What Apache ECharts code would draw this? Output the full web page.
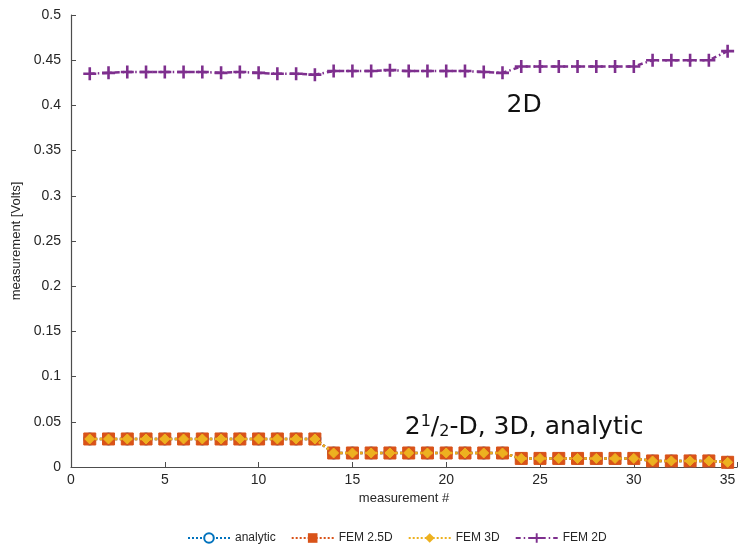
<!DOCTYPE html>
<html><head><meta charset="utf-8">
<script src="https://cdn.jsdelivr.net/npm/echarts@6/dist/echarts.min.js"></script>
<style>html,body{margin:0;padding:0;background:#fff}#c{width:740px;height:546px}</style>
</head><body><div id="c"></div>
<script>
const measurement = [1,2,3,4,5,6,7,8,9,10,11,12,13,14,15,16,17,18,19,20,21,22,23,24,25,26,27,28,29,30,31,32,33,34,35];
const analytic = [0.031,0.031,0.031,0.031,0.031,0.031,0.031,0.031,0.031,0.031,0.031,0.031,0.031,0.0155,0.0155,0.0155,0.0155,0.0155,0.0155,0.0155,0.0155,0.0155,0.0155,0.0095,0.0095,0.0095,0.0095,0.0095,0.0095,0.0095,0.0067,0.0067,0.0067,0.0067,0.0052];
const fem25d = [0.031,0.031,0.031,0.031,0.031,0.031,0.031,0.031,0.031,0.031,0.031,0.031,0.031,0.0155,0.0155,0.0155,0.0155,0.0155,0.0155,0.0155,0.0155,0.0155,0.0155,0.0095,0.0095,0.0095,0.0095,0.0095,0.0095,0.0095,0.0067,0.0067,0.0067,0.0067,0.0052];
const fem3d = [0.031,0.031,0.031,0.031,0.031,0.031,0.031,0.031,0.031,0.031,0.031,0.031,0.031,0.0155,0.0155,0.0155,0.0155,0.0155,0.0155,0.0155,0.0155,0.0155,0.0155,0.0095,0.0095,0.0095,0.0095,0.0095,0.0095,0.0095,0.0067,0.0067,0.0067,0.0067,0.0052];
const fem2d = [0.435,0.436,0.437,0.437,0.437,0.437,0.437,0.436,0.437,0.436,0.435,0.435,0.434,0.438,0.438,0.438,0.439,0.438,0.438,0.438,0.438,0.437,0.436,0.443,0.443,0.443,0.443,0.443,0.443,0.443,0.450,0.450,0.450,0.450,0.460];
const seriesNames = ['analytic','FEM 2.5D','FEM 3D','FEM 2D'];
const colors = ['#0072BD','#D95319','#EDB120','#7E2F8E'];
const annotations = [
  {coord:[24.15,0.40], text:'2D'},
  {coord:[24.15,0.044], text:'{n|2}{sup|1}{n|/}{sub|2}{n|-D, 3D, analytic}'}
];
const plus = 'path://M4,0L6,0L6,4L10,4L10,6L6,6L6,10L4,10L4,6L0,6L0,4L4,4Z';
const pair = a => measurement.map((x,i)=>[x,a[i]]);
const textCol = '#262626';
const AF = 'DejaVu Sans';
const chart = echarts.init(document.getElementById('c'), null, {renderer:'canvas'});
chart.setOption({
  animation:false,
  grid:{left:71,right:2,top:15,bottom:79,containLabel:false},
  legend:{
    top:530,left:182,itemWidth:42,itemHeight:12,itemGap:15,padding:[2,5,2,5],
    textStyle:{fontSize:12,color:textCol,fontFamily:'Liberation Sans'},
    data:seriesNames
  },
  xAxis:{
    type:'value',min:0,max:35.5,interval:5,
    name:'measurement #',nameLocation:'middle',nameGap:24,
    nameTextStyle:{fontSize:13,color:textCol,fontFamily:'Liberation Sans'},
    axisLine:{lineStyle:{color:'#4d4d4d',width:1.2}},
    axisTick:{inside:true,length:5,lineStyle:{color:'#4d4d4d'}},
    splitLine:{show:false},
    axisLabel:{fontSize:14,color:textCol,fontFamily:'Liberation Sans',margin:6,
      formatter:v=> (v%5===0 && v<=35) ? String(v) : ''}
  },
  yAxis:{
    type:'value',min:0,max:0.5,interval:0.05,
    name:'measurement [Volts]',nameLocation:'middle',nameGap:47,
    nameTextStyle:{fontSize:13,color:textCol,fontFamily:'Liberation Sans'},
    axisLine:{show:true,lineStyle:{color:'#4d4d4d',width:1.2}},
    axisTick:{show:true,inside:true,length:5,lineStyle:{color:'#4d4d4d'}},
    splitLine:{show:false},
    axisLabel:{fontSize:14,color:textCol,fontFamily:'Liberation Sans',margin:10,
      formatter:v=>String(+v.toFixed(2))}
  },
  series:[
    {name:seriesNames[0],type:'line',data:pair(analytic),color:colors[0],
     symbol:'emptyCircle',symbolSize:11,showAllSymbol:true,
     lineStyle:{type:'dotted',width:2.5,color:colors[0]},
     itemStyle:{color:colors[0],borderWidth:2},z:2},
    {name:seriesNames[1],type:'line',data:pair(fem25d),color:colors[1],
     symbol:'rect',symbolSize:12,showAllSymbol:true,
     lineStyle:{type:'dotted',width:2.5,color:colors[1]},
     itemStyle:{color:colors[1],borderColor:colors[1]},z:3},
    {name:seriesNames[2],type:'line',data:pair(fem3d),color:colors[2],
     symbol:'diamond',symbolSize:10,showAllSymbol:true,
     lineStyle:{type:'dotted',width:2.5,color:colors[2]},
     itemStyle:{color:colors[2],borderColor:colors[2]},z:4,
     markPoint:{symbol:'circle',symbolSize:0,silent:true,
       label:{show:true,position:'inside',color:'#111',fontSize:25,fontFamily:AF,
         rich:{n:{fontSize:25,fontFamily:AF,color:'#111'},
               sup:{fontSize:16,verticalAlign:'top',padding:[0,0,10,0],fontFamily:AF,color:'#111'},
               sub:{fontSize:16,verticalAlign:'bottom',padding:[8,0,0,0],fontFamily:AF,color:'#111'}},
         formatter:p=>p.name},
       data:annotations.map(a=>({name:a.text,coord:a.coord}))}},
    {name:seriesNames[3],type:'line',data:pair(fem2d),color:colors[3],
     symbol:plus,symbolSize:13,showAllSymbol:true,
     lineStyle:{type:[5,3,1.5,3],width:2.5,color:colors[3]},
     itemStyle:{color:colors[3]},z:5}
  ]
});
</script></body></html>
